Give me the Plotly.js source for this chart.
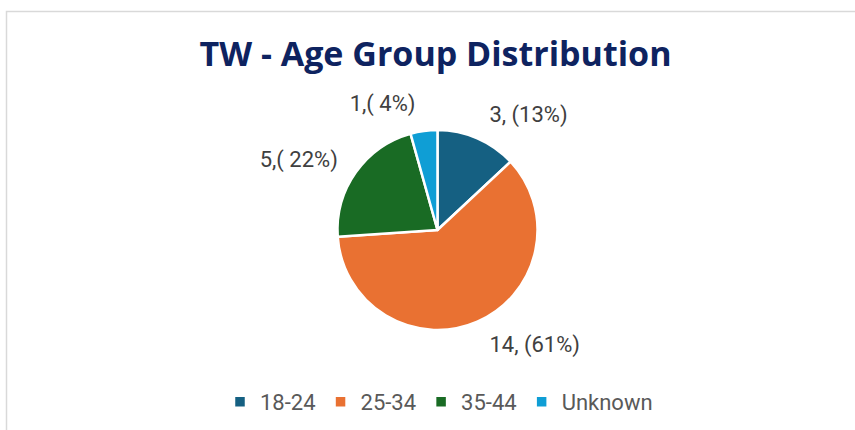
<!DOCTYPE html>
<html>
<head>
<meta charset="utf-8">
<script src="https://cdn.plot.ly/plotly-3.0.1.min.js"></script>
<style>html,body{margin:0;padding:0;background:#fff;}#chart{width:855px;height:430px;}</style>
</head>
<body>
<div id="chart"></div>
<script>
const categories = ["18-24", "25-34", "35-44", "Unknown"];
const counts = [3, 14, 5, 1];
const labelFormats = ["%{value}, (%{percent:.0%})", "%{value}, (%{percent:.0%})", "%{value},( %{percent:.0%})", "%{value},( %{percent:.0%})"];
const colors = ["#156082", "#E97132", "#196B24", "#0F9ED5"];
const titleText = "TW - Age Group Distribution";

const W = 855, H = 430;
const cx = 437.5, cy = 230, r = 100, rText = 114;
const dom = (rad) => ({x: [(cx - rad) / W, (cx + rad) / W], y: [(H - cy - rad) / H, (H - cy + rad) / H]});
const labelFont = {family: "Roboto, 'Open Sans', sans-serif", size: 22, color: "#404040"};

const pieTrace = {
  type: "pie",
  labels: categories,
  values: counts,
  textinfo: "none",
  sort: false,
  direction: "clockwise",
  rotation: 0,
  marker: {colors: colors, line: {color: "#ffffff", width: 2.5}},
  domain: dom(r),
  hoverinfo: "label+value+percent"
};

// transparent companion pie that only carries the outside data labels, a bit further out
const labelTrace = {
  type: "pie",
  labels: categories,
  values: counts,
  texttemplate: labelFormats,
  textposition: "outside",
  sort: false,
  direction: "clockwise",
  rotation: 0,
  showlegend: false,
  marker: {colors: colors.map(() => "rgba(0,0,0,0)"), line: {width: 0}},
  textfont: labelFont,
  outsidetextfont: labelFont,
  domain: dom(rText),
  hoverinfo: "skip"
};

const layout = {
  width: W, height: H,
  margin: {l: 0, r: 0, t: 0, b: 0},
  paper_bgcolor: "#ffffff",
  title: {
    text: "<b>" + titleText + "</b>",
    font: {family: "'Open Sans', sans-serif", size: 34, color: "#0E2360"},
    x: 435.5 / W, xanchor: "center", xref: "paper",
    y: 1 - 54 / H, yanchor: "middle", yref: "paper"
  },
  showlegend: true,
  legend: {
    orientation: "h",
    x: 439 / W, xanchor: "center",
    y: 28 / H, yanchor: "middle",
    font: {family: "Roboto, 'Open Sans', sans-serif", size: 22, color: "#595959"},
    traceorder: "normal"
  },
  shapes: [{
    type: "rect", xref: "paper", yref: "paper",
    x0: 6.5 / W, x1: 1.2, y0: -0.2, y1: 1 - 11.5 / H,
    line: {color: "#d9d9d9", width: 1.5}, fillcolor: "rgba(0,0,0,0)"
  }]
};

Plotly.newPlot("chart", [pieTrace, labelTrace], layout, {displayModeBar: false, staticPlot: true});
</script>
</body>
</html>
